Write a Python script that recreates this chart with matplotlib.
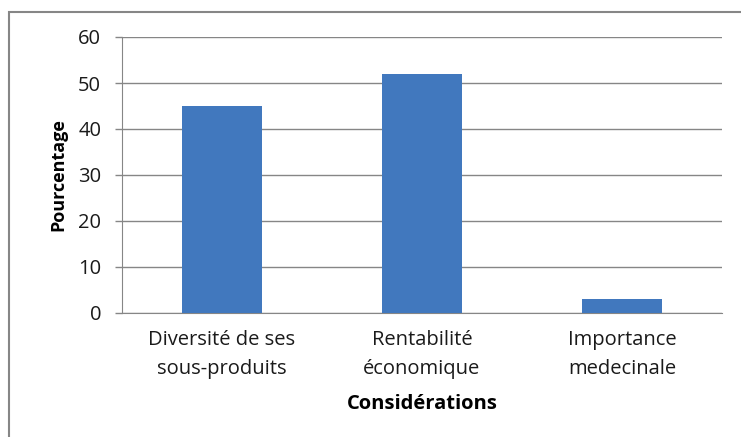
import matplotlib.pyplot as plt
from matplotlib.patches import Rectangle

categories = ['Diversité de ses\nsous-produits', 'Rentabilité\néconomique', 'Importance\nmedecinale']
values = [45, 52, 3]
yticks = [0, 10, 20, 30, 40, 50, 60]

plt.rcParams['font.family'] = ['Open Sans', 'DejaVu Sans']

W, H = 741, 437
fig = plt.figure(figsize=(W / 100, H / 100), dpi=100)

# outer chart border (cut off at right and bottom like the reference)
fig.patches.append(Rectangle((9 / W, -0.1), 1.1, 1 - 12 / H + 0.1,
                             transform=fig.transFigure, fill=False,
                             edgecolor='#868686', linewidth=1.5))

ax = fig.add_axes([122 / W, 1 - 313 / H, 600 / W, 276 / H])
x = range(len(categories))
ax.bar(x, values, width=0.4, color='#4178be', zorder=3)
ax.set_xlim(-0.5, len(categories) - 0.5)
ax.set_ylim(0, 60)
ax.set_yticks(yticks)
ax.set_xticks(list(x))
ax.set_xticklabels(categories, fontsize=14.5, color='#1a1a1a', linespacing=1.6)
ax.tick_params(axis='y', labelsize=14.5, length=5, width=1, color='#868686', pad=10, labelcolor='#1a1a1a')
ax.tick_params(axis='x', length=0, pad=12)
ax.grid(axis='y', color='#868686', linewidth=1, zorder=0)
for s in ['top', 'right']:
    ax.spines[s].set_visible(False)
ax.spines['left'].set_color('#868686')
ax.spines['bottom'].set_color('#868686')
ax.set_ylabel('Pourcentage', fontsize=13, fontweight='bold', labelpad=8)
ax.set_xlabel('Considérations', fontsize=14.5, fontweight='bold', labelpad=11)

fig.savefig('out.png', dpi=100)
